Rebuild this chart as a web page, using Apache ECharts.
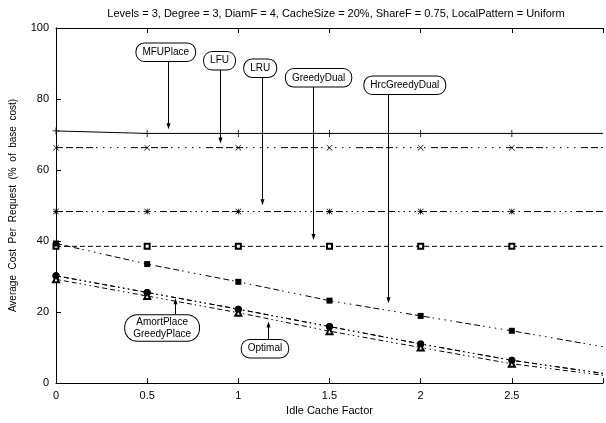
<!DOCTYPE html>
<html><head><meta charset="utf-8">
<script src="https://cdn.jsdelivr.net/npm/echarts@6/dist/echarts.min.js"></script>
<style>html,body{margin:0;padding:0;background:#fff}#c{width:606px;height:423px}</style>
</head><body><div id="c"></div>
<script>
// ---- data ----
const titleText = 'Levels = 3, Degree = 3, DiamF = 4, CacheSize = 20%, ShareF = 0.75, LocalPattern = Uniform';
const xValues = [0, 0.5, 1, 1.5, 2, 2.5, 3];
const mfuPlace = [71.0, 70.3, 70.3, 70.3, 70.3, 70.3, 70.3];
const lfu = [66.3, 66.3, 66.3, 66.3, 66.3, 66.3, 66.3];
const lru = [48.3, 48.3, 48.3, 48.3, 48.3, 48.3, 48.3];
const greedyDual = [38.5, 38.5, 38.5, 38.5, 38.5, 38.5, 38.5];
const hrcGreedyDual = [39.3, 33.5, 28.5, 23.2, 18.9, 14.7, 10.2];
const amortPlace = [30.2, 25.5, 20.8, 15.9, 11.0, 6.4, 2.7];
const greedyPlace = [30.2, 25.5, 20.8, 15.9, 11.0, 6.4, 2.7];
const optimal = [29.2, 24.5, 19.8, 14.6, 10.0, 5.4, 2.2];
const xTickLabels = ['0', '0.5', '1', '1.5', '2', '2.5'];
const yTickLabels = ['0', '20', '40', '60', '80', '100'];
// annotations (data coordinates)
const annText = ['MFUPlace', 'LFU', 'LRU', 'GreedyDual', 'HrcGreedyDual', 'AmortPlace\nGreedyPlace', 'Optimal'];
const annBoxX = [0.602, 0.897, 1.120, 1.440, 1.913, 0.582, 1.146];
const annBoxY = [93.6, 91.2, 89.1, 86.4, 84.3, 15.9, 10.1];
const annArrowX = [0.613, 0.897, 1.129, 1.409, 1.821, 0.652, 1.161];
const annTipY = [71.5, 67.5, 50.1, 40.3, 22.5, 23.9, 17.3];

// ---- style ----
const FONT = '"Liberation Sans", Arial, Helvetica, sans-serif';
const plusPath = 'path://M0,4.4H10V5.6H0Z M4.4,0H5.6V10H4.4Z';
const crossPath = 'path://M0,0.8L0.8,0L10,9.2L9.2,10Z M10,0.8L0.8,10L0,9.2L9.2,0Z';
const starPath = 'path://M0,4.4H10V5.6H0Z M4.4,0H5.6V10H4.4Z M0,0.8L0.8,0L10,9.2L9.2,10Z M10,0.8L0.8,10L0,9.2L9.2,0Z';

function pts(ys) {
  return xValues.map((x, i) => (x >= 3 ? { value: [x, ys[i]], symbol: 'none' } : [x, ys[i]]));
}
function mk(name, ys, symbol, size, dash, z) {
  return {
    name, type: 'line', data: pts(ys), symbol, symbolSize: size, showAllSymbol: true,
    lineStyle: { color: '#000', width: 1, type: dash },
    itemStyle: { color: '#000', borderColor: '#000', borderWidth: symbol.indexOf('empty') === 0 ? 0.8 : 0 },
    emphasis: { disabled: true }, animation: false, z: z || 2
  };
}

const chart = echarts.init(document.getElementById('c'), null, { renderer: 'canvas' });
const axisLabelStyle = { color: '#000', fontFamily: FONT, fontSize: 11 };
chart.setOption({
  animation: false,
  backgroundColor: '#fff',
  title: { text: titleText, left: 331, textAlign: 'center', top: 3,
    textStyle: { fontFamily: FONT, fontSize: 11, fontWeight: 'normal', color: '#000' } },
  grid: { left: 55, top: 28, right: -1, bottom: 40, containLabel: false },
  xAxis: [{
    type: 'value', min: 0, max: 3, interval: 0.5, position: 'bottom',
    name: 'Idle Cache Factor', nameLocation: 'middle', nameGap: 21,
    nameTextStyle: { color: '#000', fontFamily: FONT, fontSize: 11 },
    axisLine: { show: true, lineStyle: { color: '#000', width: 1 } },
    axisTick: { show: true, inside: true, length: 5, lineStyle: { color: '#000' } },
    axisLabel: Object.assign({ margin: 7, formatter: v => (xTickLabels.indexOf(String(v)) >= 0 ? String(v) : '') }, axisLabelStyle),
    splitLine: { show: false }
  }, {
    type: 'value', min: 0, max: 3, interval: 0.5, position: 'top',
    axisLine: { show: true, lineStyle: { color: '#000', width: 1 } },
    axisTick: { show: true, inside: true, length: 5, lineStyle: { color: '#000' } },
    axisLabel: { show: false }, splitLine: { show: false }
  }],
  yAxis: {
    type: 'value', min: 0, max: 100, interval: 20,
    name: 'Average  Cost  Per  Request  (%  of  base  cost)', nameLocation: 'middle', nameGap: 38,
    nameTextStyle: { color: '#000', fontFamily: FONT, fontSize: 10 },
    axisLine: { show: true, lineStyle: { color: '#000', width: 1 } },
    axisTick: { show: true, inside: true, length: 5, lineStyle: { color: '#000' } },
    axisLabel: Object.assign({ margin: 7, formatter: v => (yTickLabels.indexOf(String(v)) >= 0 ? String(v) : '') }, axisLabelStyle),
    splitLine: { show: false }
  },
  series: [
    mk('MFUPlace', mfuPlace, plusPath, 7, 'solid'),
    mk('LFU', lfu, crossPath, 6, [7,3,7,3,7,3,7,3,1.5,5.5,1.5,5.5,1.5,5.5,1.5,5.5,1.5,5.5]),
    mk('LRU', lru, starPath, 6, [7,3,7,3,7,3,1.5,4,1.5,4,1.5,4,1.5,4]),
    mk('GreedyDual', greedyDual, 'emptyRect', 5, [5,3]),
    mk('HrcGreedyDual', hrcGreedyDual, 'rect', 6, [6,3,6,3,6,3,1.5,4.5,1.5,4.5,1.5,4.5,1.5,4.5]),
    mk('GreedyPlace', greedyPlace, 'circle', 7, [5,3,5,3,5,3,1.5,3.5,1.5,3.5,1.5,3.5]),
    mk('AmortPlace', amortPlace, 'circle', 7, [5,3,5,3,5,3,1.5,3.5,1.5,3.5,1.5,3.5]),
    mk('Optimal', optimal, 'emptyTriangle', 6, [5,3,5,3,5,3,1.5,3.5,1.5,3.5,1.5,3.5])
  ]
});

// annotations: rounded label boxes with arrows
const graphics = [];
annText.forEach((t, i) => {
  const c = chart.convertToPixel({ xAxisIndex: 0, yAxisIndex: 0 }, [annBoxX[i], annBoxY[i]]);
  const a = chart.convertToPixel({ xAxisIndex: 0, yAxisIndex: 0 }, [annArrowX[i], annTipY[i]]);
  const lines = t.split('\n').length;
  const h = lines === 1 ? 16 : 25;
  const down = a[1] > c[1];
  const startY = down ? c[1] + h / 2 : c[1] - h / 2;
  const ax = Math.round(a[0]) + 0.5;
  const dir = down ? -1 : 1;
  graphics.push({ type: 'line', shape: { x1: ax, y1: startY, x2: ax, y2: a[1] + dir * 5 },
    style: { stroke: '#000', lineWidth: 1 }, z: 10 });
  graphics.push({ type: 'polygon', shape: { points: [[ax, a[1]], [ax - 2, a[1] + dir * 6], [ax + 2, a[1] + dir * 6]] },
    style: { fill: '#000' }, z: 10 });
  graphics.push({ type: 'text', x: c[0], y: c[1] + 1.5, z: 11,
    style: { text: t, align: 'center', verticalAlign: 'middle', font: '10px ' + FONT, fill: '#000',
      lineHeight: 11.5, backgroundColor: '#fff', borderColor: '#000', borderWidth: 1,
      borderRadius: lines === 1 ? 8 : 12, padding: lines === 1 ? [4.5, 6, 1.5, 6] : [2.5, 8, 0, 8] } });
});
chart.setOption({ graphic: graphics });
</script></body></html>
